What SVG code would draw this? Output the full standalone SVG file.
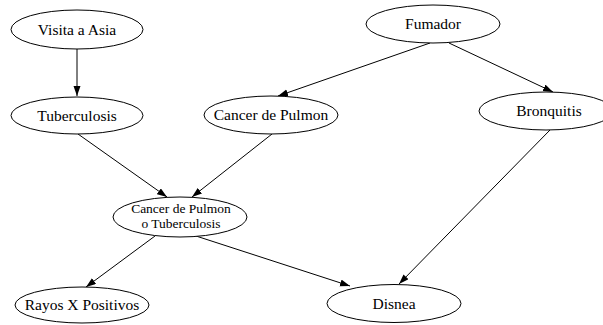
<svg xmlns="http://www.w3.org/2000/svg" width="603" height="325" viewBox="0 0 603 325">
  <style>
    .node ellipse { fill: #ffffff; stroke: #000000; stroke-width: 1; }
    .node text { font-family: "Liberation Serif", "Times New Roman", serif; font-size: 15.5px; fill: #000000; text-anchor: middle; }
    .node text.two { font-size: 13.5px; }
    .edges line { stroke: #000000; stroke-width: 1; marker-end: url(#arrow); }
  </style>
  <defs>
    <marker id="arrow" markerUnits="userSpaceOnUse" markerWidth="11" markerHeight="8" refX="10" refY="3.5" orient="auto">
      <path d="M0,0 L10,3.5 L0,7 z" fill="#000000"/>
    </marker>
  </defs>
  <rect width="603" height="325" fill="#ffffff"/>

  <g class="edges">
    <line x1="77" y1="49" x2="77" y2="96"/>
    <line x1="430" y1="43" x2="278" y2="96"/>
    <line x1="449" y1="43" x2="553" y2="92"/>
    <line x1="78" y1="134" x2="167" y2="197"/>
    <line x1="272" y1="134" x2="192" y2="197"/>
    <line x1="550" y1="130" x2="399" y2="284"/>
    <line x1="155" y1="236" x2="86" y2="287"/>
    <line x1="196" y1="236" x2="350" y2="286"/>
  </g>

  <g id="visita" class="node">
    <ellipse cx="77" cy="29.5" rx="66" ry="19.5"/>
    <text x="77" y="34.5">Visita a Asia</text>
  </g>
  <g id="tuberculosis" class="node">
    <ellipse cx="77" cy="115.5" rx="66" ry="18.5"/>
    <text x="77" y="120.5">Tuberculosis</text>
  </g>
  <g id="cancer" class="node">
    <ellipse cx="271" cy="115" rx="67" ry="19"/>
    <text x="271" y="120">Cancer de Pulmon</text>
  </g>
  <g id="fumador" class="node">
    <ellipse cx="433" cy="24" rx="67" ry="19"/>
    <text x="433" y="29">Fumador</text>
  </g>
  <g id="bronquitis" class="node">
    <ellipse cx="546" cy="111" rx="67" ry="19"/>
    <text x="549" y="116">Bronquitis</text>
  </g>
  <g id="cancer_o_tuberculosis" class="node">
    <ellipse cx="180" cy="217" rx="67" ry="20"/>
    <text class="two" x="181" y="212.5">Cancer de Pulmon</text>
    <text class="two" x="181" y="227.5">o Tuberculosis</text>
  </g>
  <g id="rayos" class="node">
    <ellipse cx="82" cy="305" rx="67" ry="18"/>
    <text x="82" y="310">Rayos X Positivos</text>
  </g>
  <g id="disnea" class="node">
    <ellipse cx="394" cy="303.5" rx="67" ry="19"/>
    <text x="394" y="308.5">Disnea</text>
  </g>
</svg>
